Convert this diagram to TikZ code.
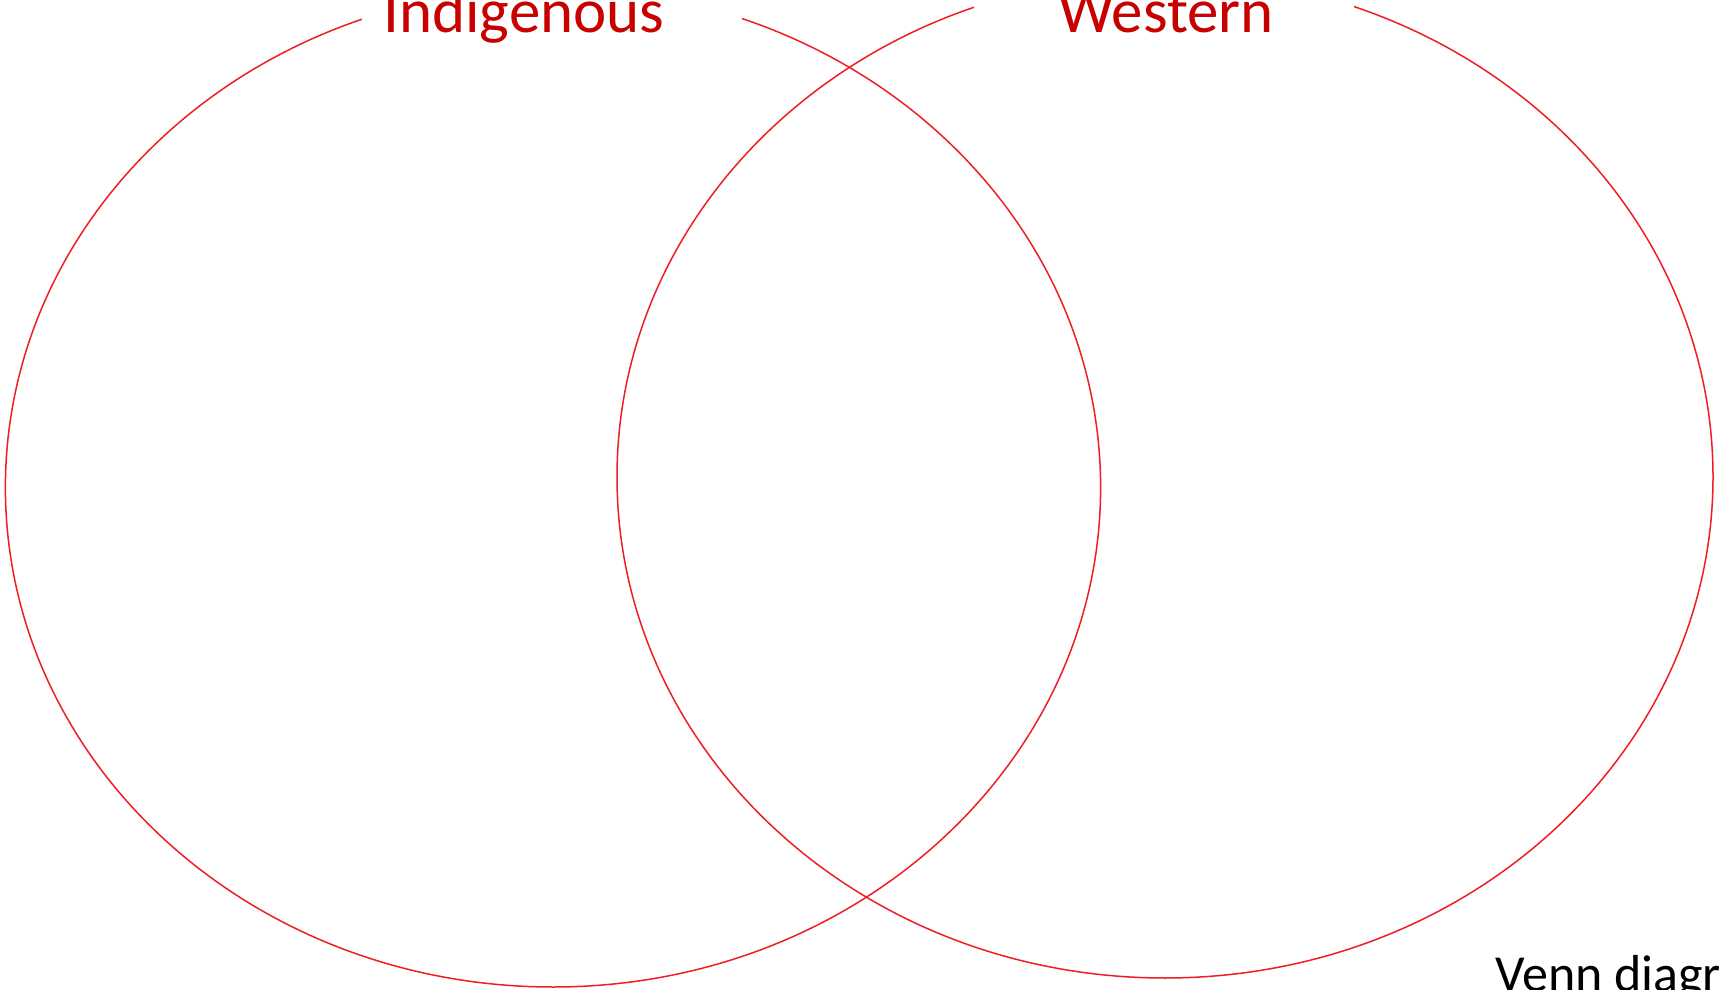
\documentclass[tikz,border=0pt]{standalone}
\usepackage{fontspec}
\setmainfont{Carlito}
\definecolor{ringred}{RGB}{238,30,36}
\definecolor{labelred}{RGB}{200,0,0}
\tikzset{
  ring/.style={draw=ringred, line width=1.5pt},
  mask/.style={fill=white, draw=none, inner sep=0pt, minimum width=380pt, minimum height=80pt},
  setlabel/.style={text=labelred, inner sep=0pt, anchor=base, font=\fontsize{63}{75}\selectfont},
  caption/.style={text=black, inner sep=0pt, anchor=base west, font=\fontsize{52}{62}\selectfont}
}
\begin{document}
\begin{tikzpicture}[x=1pt,y=1pt]
\useasboundingbox (0,0) rectangle (1719,989);
\clip (0,0) rectangle (1719,989);
\fill[white] (0,0) rectangle (1719,989);
\draw[ring] (553,501.5) ellipse [x radius=547.6pt, y radius=499.5pt];
\draw[ring] (1165,512) ellipse [x radius=548pt, y radius=501pt];
\node[mask] (maskL) at (552,1000) {};
\node[mask] (maskR) at (1163.5,1000) {};
\node[setlabel] (indig) at (524,956) {Indigenous};
\node[setlabel] (west) at (1166,956) {Western};
\node[caption] (venn) at (1495,-2.5) {Venn diagram};
\end{tikzpicture}
\end{document}
